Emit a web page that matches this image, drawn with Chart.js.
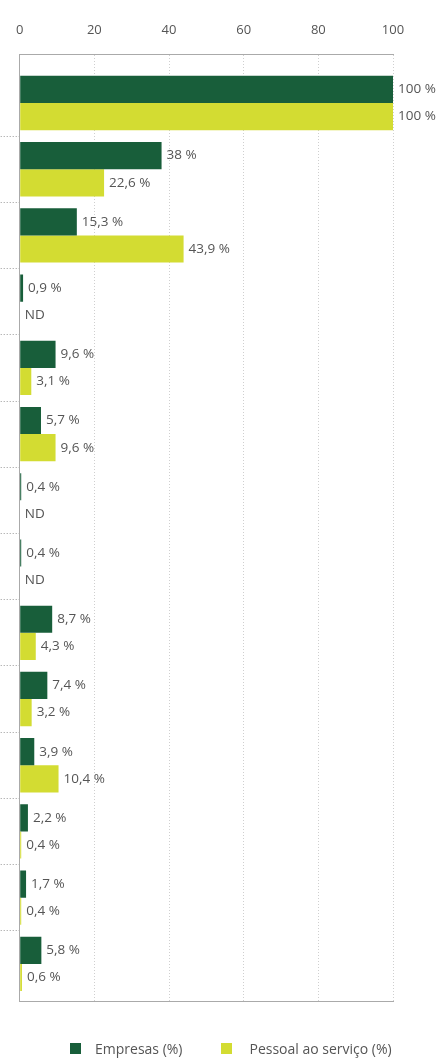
<!DOCTYPE html>
<html>
<head>
<meta charset="utf-8">
<script src="https://cdn.jsdelivr.net/npm/chart.js@4/dist/chart.umd.min.js"></script>
<style>
  html, body { margin: 0; padding: 0; background: #fff; }
  #wrap { position: relative; width: 440px; height: 1059px; }
  #legend {
    position: absolute; left: 0; top: 1040px; height: 17px;
    display: flex; align-items: center; padding-left: 70px;
    font: 14px "Open Sans", "DejaVu Sans", sans-serif; color: #555;
  }
  #legend .item { display: flex; align-items: center; }
  #legend .item + .item { margin-left: 39px; }
  #legend .box { width: 11px; height: 11px; margin-right: 14px; }
  #legend .item + .item .box { margin-right: 17px; }
</style>
</head>
<body>
<div id="wrap">
  <canvas id="sectorChart"></canvas>
  <div id="legend"></div>
</div>
<script>
// one row per category (category names are not shown in the picture)
const categories = ['1', '2', '3', '4', '5', '6', '7', '8', '9', '10', '11', '12', '13', '14'];
const empresas = [100, 38, 15.3, 0.9, 9.6, 5.7, 0.4, 0.4, 8.7, 7.4, 3.9, 2.2, 1.7, 5.8];
const pessoal = [100, 22.6, 43.9, null, 3.1, 9.6, null, null, 4.3, 3.2, 10.4, 0.4, 0.4, 0.6]; // null = ND
const xTicks = [0, 20, 40, 60, 80, 100];
const seriesNames = ['Empresas (%)', 'Pessoal ao serviço (%)'];

const darkGreen = '#185e3a';
const limeGreen = '#d3dc32';
const textColor = '#555';
const fontFamily = '"Open Sans", "DejaVu Sans", sans-serif';

// category i sits at y = i on a linear index axis; dotted marks between categories
const boundaries = categories.slice(1).map((c, i) => i + 0.5);

function toPoints(values) {
    return values.map((v, i) => ({ x: v, y: i }));
}

function formatValue(v) {
    if (v === null || v === undefined) return 'ND';
    return String(v).replace('.', ',') + ' %';
}

// writes the value (or ND) just right of each bar
const valueLabels = {
    id: 'valueLabels',
    afterDatasetsDraw(chart) {
        const ctx = chart.ctx;
        const xScale = chart.scales.x;
        ctx.save();
        ctx.font = '13.5px ' + fontFamily;
        ctx.fillStyle = textColor;
        ctx.textAlign = 'left';
        ctx.textBaseline = 'middle';
        chart.data.datasets.forEach((ds, di) => {
            const meta = chart.getDatasetMeta(di);
            meta.data.forEach((bar, i) => {
                const raw = ds.data[i].x;
                if (!isFinite(bar.y)) return;
                const end = raw === null ? xScale.getPixelForValue(0) : bar.x;
                ctx.fillText(formatValue(raw), end + 5, bar.y);
            });
        });
        ctx.restore();
    }
};

const colors = [darkGreen, limeGreen];

const ctx = document.getElementById('sectorChart').getContext('2d');
new Chart(ctx, {
    type: 'bar',
    data: {
        datasets: [{
            label: seriesNames[0],
            data: toPoints(empresas),
            backgroundColor: colors[0],
            borderWidth: 0
        }, {
            label: seriesNames[1],
            data: toPoints(pessoal),
            backgroundColor: colors[1],
            borderWidth: 0
        }]
    },
    options: {
        indexAxis: 'y',
        responsive: true,
        maintainAspectRatio: false,
        animation: false,
        categoryPercentage: 0.82,
        barPercentage: 1,
        layout: { padding: { left: 0, right: 47, top: 0, bottom: 58 } },
        plugins: {
            tooltip: { enabled: false },
            legend: { display: false }
        },
        scales: {
            x: {
                type: 'linear',
                position: 'top',
                min: 0,
                max: 100,
                afterBuildTicks: s => { s.ticks = xTicks.map(v => ({ value: v })); },
                afterFit: s => { s.height = 54; },
                ticks: {
                    padding: 16,
                    color: textColor,
                    font: { family: fontFamily, size: 13 }
                },
                grid: { color: '#cfcfcf', drawTicks: false },
                border: { display: true, color: '#aaa', dash: [1, 2] }
            },
            xBottom: {
                type: 'linear',
                axis: 'x',
                position: 'bottom',
                min: 0,
                max: 100,
                ticks: { display: false },
                grid: { drawOnChartArea: false, drawTicks: false },
                border: { display: true, color: '#aaa' }
            },
            y: {
                type: 'linear',
                reverse: true,
                offset: false,
                min: -0.74,
                max: 13.56,
                afterBuildTicks: s => { s.ticks = boundaries.map(v => ({ value: v })); },
                ticks: { display: false },
                grid: {
                    offset: false,
                    drawOnChartArea: false,
                    drawTicks: true,
                    tickLength: 19,
                    tickColor: '#999',
                    tickBorderDash: [1, 2]
                },
                border: { display: true, color: '#aaa' }
            }
        }
    },
    plugins: [valueLabels]
});

// legend under the chart, built from the series names
const legend = document.getElementById('legend');
seriesNames.forEach((name, i) => {
    const item = document.createElement('span');
    item.className = 'item';
    const box = document.createElement('span');
    box.className = 'box';
    box.style.background = colors[i];
    item.appendChild(box);
    item.appendChild(document.createTextNode(name));
    legend.appendChild(item);
});
</script>
</body>
</html>
